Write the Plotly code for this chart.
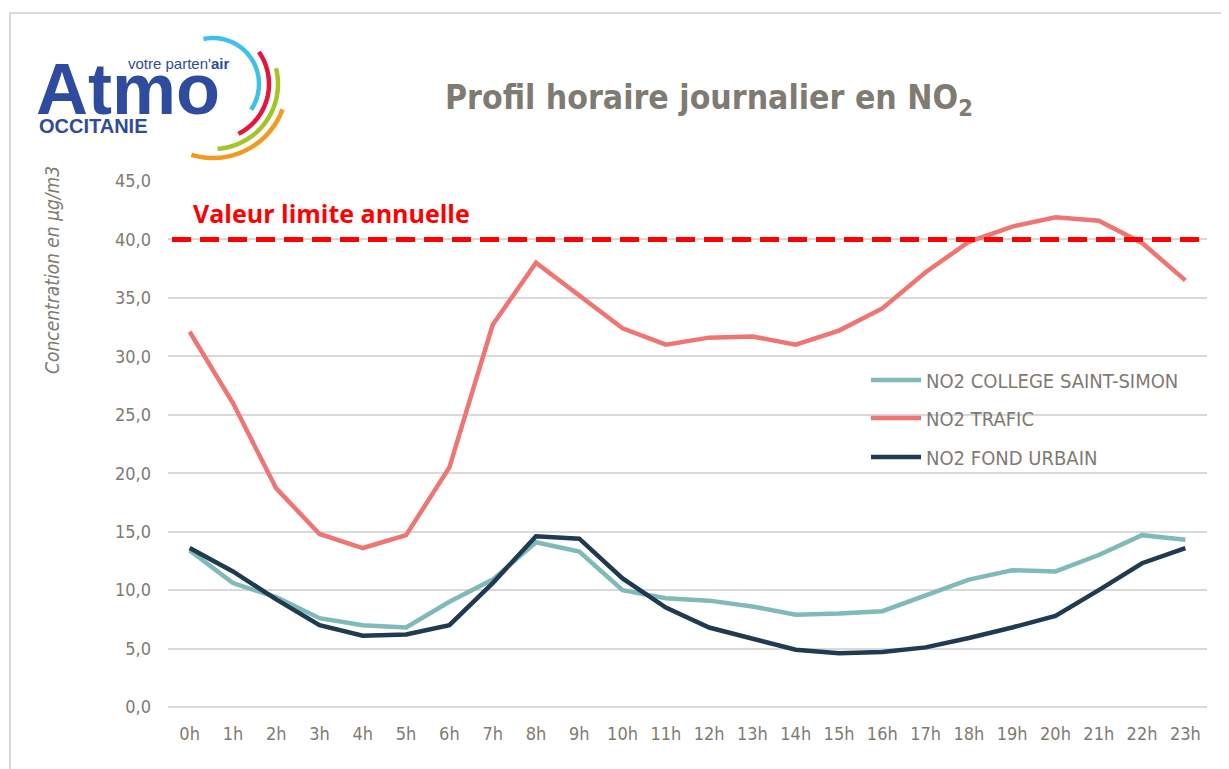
import numpy as np
import plotly.graph_objects as go

W, H = 1229, 769
OFF = 8  # page body margin

hours = [f"{h}h" for h in range(24)]
college = [13.4, 10.6, 9.4, 7.6, 7.0, 6.8, 9.0, 10.9, 14.1, 13.3, 10.0, 9.3,
           9.1, 8.6, 7.9, 8.0, 8.2, 9.5, 10.9, 11.7, 11.6, 13.0, 14.7, 14.3]
trafic = [32.1, 26.0, 18.7, 14.8, 13.6, 14.7, 20.5, 32.7, 38.0, 35.2, 32.4, 31.0,
          31.6, 31.7, 31.0, 32.2, 34.1, 37.2, 39.8, 41.1, 41.9, 41.6, 39.7, 36.5]
fond = [13.6, 11.6, 9.2, 7.0, 6.1, 6.2, 7.0, 10.6, 14.6, 14.4, 11.0, 8.5,
        6.8, 5.8, 4.9, 4.6, 4.7, 5.1, 5.9, 6.8, 7.8, 10.0, 12.3, 13.6]
valeur_limite = 40.0

GRAY = "#7f7a72"
NARROW = "Liberation Sans Narrow, DejaVu Sans Condensed, sans-serif"
LOGO = "#2f4b9e"


# screen pixel -> paper (margins are 0 so paper = whole figure)
def fx(x):
    return (x - OFF) / W


def fy(y):
    return 1 - (y - OFF) / H


def arc_path(cx, cy, r, a0, a1, n=30):
    a = np.radians(np.linspace(a0, a1, n))
    pts = [(fx(cx + r * np.cos(t)), fy(cy - r * np.sin(t))) for t in a]
    return "M" + " L".join(f"{x:.5f},{y:.5f}" for x, y in pts)


fig = go.Figure()
fig.add_trace(go.Scatter(x=hours, y=college, mode="lines", name="NO2 COLLEGE SAINT-SIMON",
                         line=dict(color="#7fb9b8", width=4.5), legend="legend"))
fig.add_trace(go.Scatter(x=hours, y=trafic, mode="lines", name="NO2 TRAFIC",
                         line=dict(color="#ee7571", width=4.5), legend="legend2"))
fig.add_trace(go.Scatter(x=hours, y=fond, mode="lines", name="NO2 FOND URBAIN",
                         line=dict(color="#203a52", width=4.5), legend="legend3"))

shapes = [
    # outer frame
    dict(type="rect", xref="paper", yref="paper", x0=fx(10), x1=fx(1250), y0=fy(790), y1=fy(13),
         line=dict(color="#d9d9d9", width=2), layer="below"),
    # legend box hides the grid
    dict(type="rect", xref="paper", yref="paper", x0=fx(850), x1=fx(1203), y0=fy(474), y1=fy(362),
         fillcolor="white", line=dict(width=0), layer="between"),
    # annual limit
    dict(type="line", xref="paper", yref="y", x0=fx(172), x1=fx(1201), y0=valeur_limite, y1=valeur_limite,
         line=dict(color="#ff0000", width=5, dash="19px,9px")),
]
# logo arcs
for col, r, a0, a1 in [("#3ec1e8", 46, 102, -34), ("#e3173e", 56, 35, -63),
                       ("#a3c52a", 65, 14, -86), ("#f39a1e", 74, -20, -107)]:
    shapes.append(dict(type="path", xref="paper", yref="paper", path=arc_path(213, 84, r, a0, a1),
                       line=dict(color=col, width=4.5)))

leg = dict(bgcolor="rgba(0,0,0,0)", font=dict(family=NARROW, size=20, color=GRAY),
           xanchor="left", yanchor="middle", borderwidth=0, itemwidth=50)

fig.update_layout(
    width=W, height=H,
    margin=dict(l=0, r=0, t=0, b=0, autoexpand=False),
    paper_bgcolor="white", plot_bgcolor="white",
    separators=", ",
    showlegend=True,
    legend=dict(leg, x=fx(866), y=fy(380)),
    legend2=dict(leg, x=fx(866), y=fy(418)),
    legend3=dict(leg, x=fx(866), y=fy(457)),
    xaxis=dict(domain=[fx(168), fx(1207)], range=[-0.5, 23.5], showgrid=False, showline=False,
               automargin=False, ticks="", tickfont=dict(family=NARROW, size=18, color=GRAY),
               ticklabelstandoff=14),
    yaxis=dict(domain=[fy(707), fy(181)], range=[0, 45], dtick=5, tickformat=".1f",
               showgrid=True, gridcolor="#d9d9d9", gridwidth=1.5,
               zeroline=True, zerolinecolor="#d9d9d9", zerolinewidth=1.5, showline=False,
               automargin=False, ticks="", tickfont=dict(family=NARROW, size=18, color=GRAY),
               ticklabelstandoff=16),
    shapes=shapes,
    annotations=[
        dict(text="<b>Profil horaire journalier en NO<sub>2</sub></b>", xref="paper", yref="paper",
             x=fx(709), y=fy(100), xanchor="center", yanchor="middle", showarrow=False,
             font=dict(family=NARROW, size=33.5, color=GRAY)),
        dict(text="<b>Valeur limite annuelle</b>", xref="paper", yref="paper", x=fx(191), y=fy(213),
             xanchor="left", yanchor="middle", showarrow=False,
             font=dict(family="Open Sans, sans-serif", size=25, color="#ff0000")),
        dict(text="<i>Concentration en µg/m3</i>", xref="paper", yref="paper", x=fx(52), y=fy(270),
             xanchor="center", yanchor="middle", textangle=-90, showarrow=False,
             font=dict(family=NARROW, size=19, color=GRAY)),
        dict(text="<b>Atmo</b>", xref="paper", yref="paper", x=fx(34), y=fy(89), xanchor="left",
             yanchor="middle", showarrow=False,
             font=dict(family="Liberation Sans, sans-serif", size=72, color=LOGO)),
        dict(text="<b>OCCITANIE</b>", xref="paper", yref="paper", x=fx(37), y=fy(126), xanchor="left",
             yanchor="middle", showarrow=False,
             font=dict(family="Liberation Sans, sans-serif", size=20, color=LOGO)),
        dict(text="votre parten'<b>air</b>", xref="paper", yref="paper", x=fx(231), y=fy(63), xanchor="right",
             yanchor="middle", showarrow=False,
             font=dict(family="Liberation Sans, sans-serif", size=15, color=LOGO)),
    ],
)

fig.write_html("out.html")
